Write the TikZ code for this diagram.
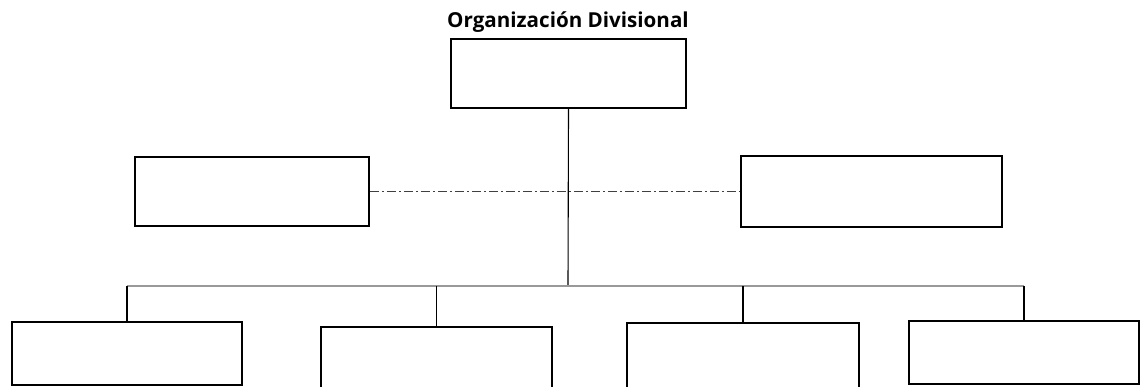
\documentclass[tikz,border=0pt]{standalone}
\usepackage{fontspec}
\newfontfamily\titlefont{Open Sans}
\begin{document}
\begin{tikzpicture}[x=1pt,y=-1pt,
  unitbox/.style={draw=black, line width=1.9pt, fill=white, rectangle, inner sep=0pt},
  link/.style={draw=black, line width=1.1pt},
  busline/.style={draw=black!40, line width=1.2pt},
  staffline/.style={draw=black!75, line width=1pt, dash pattern=on 9pt off 3pt on 2pt off 3pt}]
  \useasboundingbox (0,0) rectangle (1141,386);
  \clip (0,0) rectangle (1141,386);

  % title
  \node[anchor=base, inner sep=0pt] (title) at (568,27.5)
    {\titlefont\fontsize{20.6}{22}\selectfont\bfseries Organización Divisional};

  % boxes
  \node[unitbox, minimum width=235pt, minimum height=69pt] (top)  at (568.5,73.5) {};
  \node[unitbox, minimum width=234pt, minimum height=69pt] (midL) at (252,191.5) {};
  \node[unitbox, minimum width=261pt, minimum height=71pt] (midR) at (871.5,191.5) {};
  \node[unitbox, minimum width=230pt, minimum height=63pt] (b1) at (127,353.5) {};
  \node[unitbox, minimum width=231pt, minimum height=66pt] (b2) at (436.5,360) {};
  \node[unitbox, minimum width=232pt, minimum height=70pt] (b3) at (743,358) {};
  \node[unitbox, minimum width=230pt, minimum height=63pt] (b4) at (1024,352.5) {};

  \coordinate (bus) at (568,286);

  % staff line between the side boxes
  \draw[staffline] (midL.east) -- (midR.west);

  % main stem down to the bus
  \draw[link] (top.south) -- (bus);

  % horizontal bus
  \draw[busline] (b1.north |- bus) -- (b4.north |- bus);

  % drops to the divisions
  \foreach \b in {b1,b2,b3,b4}
    \draw[link] (\b.north |- bus) -- (\b.north);
\end{tikzpicture}
\end{document}
